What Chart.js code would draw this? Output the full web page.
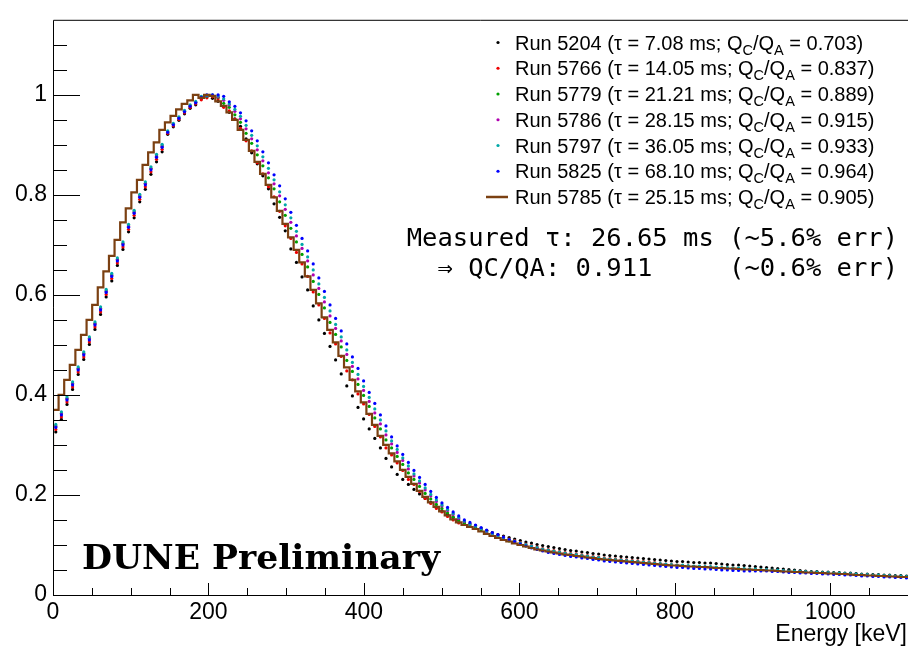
<!DOCTYPE html>
<html>
<head>
<meta charset="utf-8">
<script src="https://cdn.jsdelivr.net/npm/chart.js@4.4.1/dist/chart.umd.min.js"></script>
<style>
html, body { margin: 0; padding: 0; background: #fff; overflow: hidden; }
#wrap { width: 912px; height: 648px; }
</style>
</head>
<body>
<div id="wrap"><canvas id="myChart" width="912" height="648"></canvas></div>
<script>
// histogram binning (keV)
var binWidth = 7.2;
var nBins = 153;

var xTicks = [0, 200, 400, 600, 800, 1000];
var yTicks = [0, 0.2, 0.4, 0.6, 0.8, 1];

var runs = ['5204', '5766', '5779', '5786', '5797', '5825', '5785'];
var taus = ['7.08', '14.05', '21.21', '28.15', '36.05', '68.10', '25.15'];
var ratios = ['0.703', '0.837', '0.889', '0.915', '0.933', '0.964', '0.905'];
var colors = ['#000000', '#ee0000', '#00a000', '#b000b0', '#00a8a8', '#0000ff', '#7b4012'];

var run5785Start = 0.29;
var run5785 = [
 .345,.370,.400,.430,.460,.490,.520,.550,.580,.615,
 .647,.678,.710,.745,.773,.805,.830,.860,.885,.905,
 .930,.945,.958,.971,.982,.989,1.000,.994,1.000,.998,
 .987,.978,.965,.950,.930,.910,.888,.866,.842,.820,
 .795,.768,.742,.715,.690,.665,.637,.610,.583,.555,
 .530,.505,.478,.455,.430,.407,.385,.362,.340,.318,
 .300,.283,.267,.250,.236,.222,.208,.196,.185,.176,
 .167,.159,.151,.145,.140,.136,.132,.127,.122,.118,
 .114,.110,.107,.103,.100,.097,.094,.091,.089,.087,
 .085,.083,.081,.080,.078,.077,.075,.074,.072,.071,
 .070,.069,.068,.067,.066,.065,.064,.063,.062,.061,
 .060,.059,.059,.058,.057,.057,.056,.056,.055,.054,
 .054,.053,.053,.052,.051,.051,.050,.050,.049,.049,
 .048,.047,.047,.046,.046,.045,.045,.044,.044,.043,
 .043,.042,.042,.041,.040,.040,.039,.039,.038,.038,
 .037,.037,.036];

var run5204 = [
 .326,.351,.381,.411,.441,.471,.501,.531,.561,.596,
 .628,.659,.691,.726,.754,.786,.811,.841,.866,.886,
 .921,.936,.949,.962,.973,.980,.992,.996,.993,.987,
 .977,.965,.952,.937,.912,.884,.862,.838,.812,.782,
 .755,.728,.692,.665,.636,.610,.578,.550,.523,.497,
 .470,.442,.418,.398,.375,.352,.332,.313,.294,.273,
 .256,.241,.231,.221,.211,.202,.193,.185,.176,.168,
 .161,.155,.150,.146,.142,.139,.133,.129,.125,.121,
 .118,.115,.112,.109,.106,.104,.101,.099,.097,.095,
 .093,.091,.089,.088,.086,.085,.083,.082,.080,.079,
 .078,.077,.076,.075,.074,.073,.072,.071,.070,.069,
 .068,.067,.067,.066,.065,.065,.064,.064,.063,.062,
 .061,.060,.060,.059,.058,.057,.056,.055,.054,.053,
 .052,.051,.050,.049,.048,.047,.047,.046,.046,.045,
 .045,.044,.044,.043,.042,.042,.041,.041,.040,.040,
 .039,.039,.038];

var run5766 = [
 .331,.356,.386,.416,.446,.476,.506,.536,.566,.601,
 .633,.664,.696,.731,.759,.791,.816,.846,.871,.891,
 .923,.938,.951,.964,.975,.982,.990,.994,.996,.992,
 .975,.968,.951,.933,.908,.888,.864,.842,.816,.796,
 .767,.738,.713,.685,.662,.637,.606,.580,.553,.524,
 .502,.477,.448,.430,.402,.382,.361,.337,.316,.294,
 .280,.264,.249,.231,.221,.207,.193,.183,.173,.166,
 .157,.150,.144,.141,.138,.136,.133,.129,.124,.120,
 .116,.112,.109,.105,.102,.099,.096,.093,.091,.089,
 .087,.085,.083,.082,.080,.079,.077,.076,.074,.073,
 .072,.071,.070,.069,.068,.067,.066,.065,.063,.062,
 .061,.060,.059,.058,.057,.057,.056,.056,.055,.054,
 .054,.053,.053,.052,.051,.051,.050,.050,.049,.049,
 .048,.047,.047,.046,.046,.045,.045,.044,.044,.043,
 .043,.042,.042,.041,.040,.040,.039,.039,.038,.038,
 .037,.037,.036];

var run5779 = [
 .338,.363,.393,.423,.453,.483,.513,.543,.573,.608,
 .640,.671,.703,.738,.766,.798,.823,.853,.878,.898,
 .926,.941,.954,.967,.978,.985,.995,.997,.998,.995,
 .983,.975,.960,.945,.923,.903,.880,.858,.834,.812,
 .786,.759,.733,.706,.681,.656,.627,.601,.574,.545,
 .521,.496,.469,.447,.421,.399,.377,.354,.332,.310,
 .294,.277,.261,.244,.231,.217,.203,.192,.181,.173,
 .164,.156,.148,.143,.138,.135,.130,.125,.120,.116,
 .112,.108,.105,.101,.098,.095,.092,.089,.087,.085,
 .083,.081,.079,.078,.076,.075,.073,.072,.070,.069,
 .068,.067,.066,.065,.064,.063,.062,.061,.060,.059,
 .059,.058,.058,.057,.057,.056,.056,.055,.055,.054,
 .054,.053,.053,.052,.051,.051,.050,.050,.049,.049,
 .048,.047,.047,.046,.046,.045,.045,.044,.044,.043,
 .043,.042,.042,.041,.040,.040,.039,.039,.038,.038,
 .037,.037,.036];

var run5786 = [
 .337,.362,.392,.422,.452,.482,.512,.542,.572,.607,
 .639,.670,.702,.737,.765,.797,.822,.852,.877,.897,
 .926,.941,.954,.967,.978,.985,.996,.998,.999,.996,
 .989,.980,.967,.952,.932,.912,.890,.868,.844,.822,
 .798,.771,.745,.718,.693,.668,.640,.613,.586,.558,
 .533,.508,.481,.457,.432,.409,.387,.364,.342,.320,
 .302,.285,.269,.252,.238,.224,.210,.198,.187,.178,
 .169,.161,.153,.147,.142,.138,.133,.127,.122,.118,
 .114,.110,.107,.103,.100,.097,.094,.091,.089,.087,
 .085,.083,.081,.080,.078,.077,.075,.074,.072,.071,
 .070,.069,.068,.067,.066,.065,.064,.063,.062,.061,
 .060,.059,.059,.058,.057,.057,.056,.056,.055,.054,
 .054,.053,.053,.052,.051,.051,.050,.050,.049,.049,
 .048,.047,.047,.046,.046,.045,.045,.044,.044,.043,
 .043,.042,.042,.041,.040,.040,.039,.039,.038,.038,
 .037,.037,.036];

var run5797 = [
 .341,.366,.396,.426,.456,.486,.516,.546,.576,.611,
 .643,.674,.706,.741,.769,.801,.826,.856,.881,.901,
 .928,.943,.956,.969,.980,.987,.997,.999,1.000,.998,
 .992,.982,.971,.957,.939,.919,.898,.876,.853,.830,
 .806,.780,.754,.727,.701,.676,.650,.622,.595,.568,
 .541,.516,.490,.465,.441,.417,.395,.372,.350,.328,
 .308,.291,.274,.258,.242,.228,.214,.201,.190,.180,
 .171,.163,.155,.148,.142,.138,.133,.128,.123,.119,
 .115,.111,.108,.104,.101,.098,.095,.092,.090,.088,
 .086,.084,.082,.081,.079,.078,.076,.075,.073,.072,
 .071,.070,.069,.068,.067,.066,.065,.064,.063,.062,
 .061,.060,.060,.059,.058,.058,.057,.057,.056,.055,
 .055,.054,.054,.053,.052,.052,.051,.051,.050,.050,
 .049,.048,.048,.047,.047,.046,.046,.045,.045,.044,
 .044,.043,.043,.042,.041,.041,.040,.040,.039,.039,
 .038,.038,.037];

var run5825 = [
 .335,.360,.390,.420,.450,.480,.510,.540,.570,.605,
 .637,.668,.700,.735,.763,.795,.820,.850,.875,.895,
 .925,.940,.953,.966,.977,.984,.995,1.000,1.000,1.000,
 .997,.986,.977,.964,.948,.928,.908,.886,.864,.840,
 .818,.792,.765,.739,.713,.688,.662,.634,.607,.580,
 .553,.528,.502,.476,.453,.428,.405,.383,.360,.338,
 .316,.298,.281,.265,.249,.235,.221,.207,.195,.184,
 .175,.166,.158,.150,.145,.140,.135,.130,.125,.121,
 .116,.111,.107,.102,.098,.094,.091,.088,.085,.083,
 .081,.079,.077,.076,.074,.073,.071,.070,.068,.067,
 .066,.065,.064,.063,.062,.061,.060,.059,.058,.057,
 .056,.055,.055,.054,.053,.053,.052,.052,.051,.050,
 .050,.049,.049,.048,.048,.048,.048,.048,.047,.047,
 .046,.045,.045,.044,.044,.043,.043,.042,.042,.041,
 .041,.040,.040,.039,.038,.038,.037,.037,.036,.036,
 .035,.035,.034];

var centers = [];
for (var i = 0; i < nBins; i++) centers.push((i + 0.5) * binWidth);

function points(vals) {
    return vals.map(function (v, i) { return { x: centers[i], y: v }; });
}

// brown histogram drawn as steps over the bin edges
var histPts = [{ x: 0, y: run5785Start }];
for (i = 0; i < nBins; i++) histPts.push({ x: i * binWidth, y: run5785[i] });
histPts.push({ x: nBins * binWidth, y: run5785[nBins - 1] });

function dots(vals, col) {
    return {
        data: points(vals), showLine: false, pointRadius: 1.6, pointBorderWidth: 0,
        pointBackgroundColor: col, pointBorderColor: col
    };
}

var lab = { family: 'Liberation Sans', size: 23 };

var decor = {
    id: 'decor',
    afterDraw: function (chart) {
        var ctx = chart.ctx, a = chart.chartArea, xs = chart.scales.x, ys = chart.scales.y;
        ctx.save();
        ctx.strokeStyle = '#000';
        ctx.lineWidth = 1;
        ctx.beginPath();
        ctx.moveTo(a.left + 0.5, a.bottom + 0.5); ctx.lineTo(a.left + 0.5, a.top + 0.5); ctx.lineTo(a.right, a.top + 0.5);
        ctx.moveTo(a.left, a.bottom + 0.5); ctx.lineTo(a.right, a.bottom + 0.5);
        for (var v = 0; v <= 1100; v += 50) {
            var px = Math.round(xs.getPixelForValue(v)) + 0.5;
            ctx.moveTo(px, a.bottom); ctx.lineTo(px, a.bottom - (v % 200 === 0 ? 12 : 7));
        }
        for (var k = 1; k <= 22; k++) {
            var py = Math.round(ys.getPixelForValue(k * 0.05)) + 0.5;
            ctx.moveTo(a.left, py); ctx.lineTo(a.left + (k % 4 === 0 ? 27 : 14), py);
        }
        ctx.stroke();

        // legend
        ctx.fillStyle = '#000';
        ctx.textBaseline = 'alphabetic';
        for (var r = 0; r < runs.length; r++) {
            var y = 49.5 + 25.75 * r;
            if (r === runs.length - 1) {
                ctx.strokeStyle = colors[r]; ctx.lineWidth = 2.5;
                ctx.beginPath(); ctx.moveTo(486, y - 7); ctx.lineTo(508, y - 7); ctx.stroke();
            } else {
                ctx.fillStyle = colors[r];
                ctx.beginPath(); ctx.arc(498, y - 7, 1.6, 0, Math.PI * 2); ctx.fill();
            }
            ctx.fillStyle = '#000';
            var x = 515, big = '20px "Liberation Sans"', small = '14.5px "Liberation Sans"';
            var parts = [['Run ' + runs[r] + ' (\u03c4 = ' + taus[r] + ' ms; Q', 0], ['C', 1], ['/Q', 0], ['A', 1], [' = ' + ratios[r] + ')', 0]];
            parts.forEach(function (p) {
                ctx.font = p[1] ? small : big;
                ctx.fillText(p[0], x, y + (p[1] ? 5 : 0));
                x += ctx.measureText(p[0]).width;
            });
        }

        ctx.font = '25.5px "DejaVu Sans Mono"';
        ctx.textAlign = 'right';
        ctx.fillText('Measured \u03c4: 26.65 ms (~5.6% err)', 898, 246);
        ctx.fillText('\u21d2 QC/QA: 0.911     (~0.6% err)', 898, 276);

        ctx.font = '23px "Liberation Sans"';
        ctx.fillText('Energy [keV]', 907, 641);

        ctx.textAlign = 'left';
        ctx.font = 'bold 34px "DejaVu Serif"';
        var w = ctx.measureText('DUNE Preliminary').width;
        ctx.translate(82, 569);
        ctx.scale(358 / w, 1);
        ctx.fillText('DUNE Preliminary', 0, 0);
        ctx.restore();
    }
};

var ctx = document.getElementById('myChart').getContext('2d');
var myChart = new Chart(ctx, {
    type: 'scatter',
    data: {
        datasets: [
            {
                data: histPts, showLine: true, stepped: 'after', pointRadius: 0,
                borderColor: colors[6], borderWidth: 2.2, fill: false
            },
            dots(run5825, colors[5]),
            dots(run5797, colors[4]),
            dots(run5786, colors[3]),
            dots(run5779, colors[2]),
            dots(run5766, colors[1]),
            dots(run5204, colors[0])
        ]
    },
    options: {
        responsive: false,
        animation: false,
        events: [],
        layout: { padding: { top: 11, right: 2, left: 0, bottom: 0 } },
        plugins: { legend: { display: false }, tooltip: { enabled: false } },
        scales: {
            x: {
                type: 'linear', min: 0, max: 1100,
                grid: { display: false, drawTicks: false }, border: { display: false },
                afterBuildTicks: function (s) { s.ticks = xTicks.map(function (v) { return { value: v }; }); },
                afterFit: function (s) { s.height = 53; },
                ticks: { font: lab, color: '#000', padding: 4, maxRotation: 0, autoSkip: false,
                    callback: function (v) { return String(v); } }
            },
            y: {
                min: 0, max: 1.15,
                grid: { display: false, drawTicks: false }, border: { display: false },
                afterBuildTicks: function (s) { s.ticks = yTicks.map(function (v) { return { value: v }; }); },
                afterFit: function (s) { s.width = 53; },
                ticks: { font: lab, color: '#000', padding: 6,
                    callback: function (v) { return String(v); } }
            }
        }
    },
    plugins: [decor]
});
</script>
</body>
</html>
